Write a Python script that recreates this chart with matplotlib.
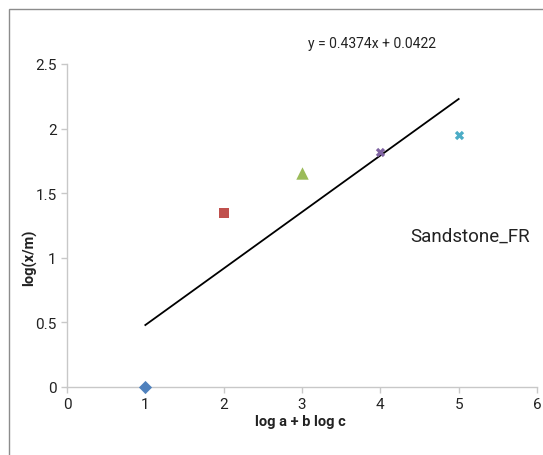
import matplotlib.pyplot as plt
import numpy as np
from matplotlib.patches import Rectangle

plt.rcParams['font.family'] = ['Roboto', 'DejaVu Sans']

# Sandstone_FR points, one series per marker
x_vals = [1, 2, 3, 4, 5]
y_vals = [0.0, 1.347, 1.656, 1.820, 1.950]
markers = ['D', 's', '^', 'X', 'X']
colors = ['#4F81BD', '#C0504D', '#9BBB59', '#8064A2', '#4BACC6']
sizes = [45, 60, 80, 45, 45]

# linear trendline from the stated equation
slope = 0.4374
intercept = 0.0422

x_ticks = [0, 1, 2, 3, 4, 5, 6]
y_ticks = [0, 0.5, 1, 1.5, 2, 2.5]
y_tick_labels = ['0', '0.5', '1', '1.5', '2', '2.5']

W, H = 543, 456
fig = plt.figure(figsize=(W / 100, H / 100), dpi=100)
ax = fig.add_axes([67 / W, 1 - 388 / H, 470 / W, 323 / H])

for x, y, m, c, s in zip(x_vals, y_vals, markers, colors, sizes):
    ax.scatter(x, y, marker=m, color=c, s=s, zorder=3, clip_on=False,
               linewidths=0)

xt = np.array([min(x_vals), max(x_vals)])
ax.plot(xt, slope * xt + intercept, color='black', lw=1.3)

ax.set_xlim(0, 6)
ax.set_ylim(0, 2.5)
ax.set_xticks(x_ticks)
ax.set_yticks(y_ticks)
ax.set_yticklabels(y_tick_labels)
for sp in ['top', 'right']:
    ax.spines[sp].set_visible(False)
for sp in ['left', 'bottom']:
    ax.spines[sp].set_color('#C8C8C8')
    ax.spines[sp].set_linewidth(1.0)
ax.tick_params(axis='both', colors='#C8C8C8', labelcolor='#222222',
               labelsize=11, length=4, width=1.0)

ax.set_xlabel('log a + b log c', fontsize=10.5, fontweight='bold',
              color='#222222')
ax.set_ylabel('log(x/m)', fontsize=10.5, fontweight='bold',
              color='#222222')
ax.xaxis.set_label_coords((300 - 67) / 470, -(415 - 388) / 323)
ax.yaxis.set_label_coords(-(67 - 37) / 470, (388 - 258) / 323)

fig.text(372 / W, 1 - 44 / H, f'y = {slope:.4f}x + {intercept:.4f}',
         ha='center', va='center', fontsize=10, color='#222222')
fig.text(470 / W, 1 - 237 / H, 'Sandstone_FR', ha='center', va='center',
         fontsize=13.5, color='#222222')

# chart area border
fig.patches.append(Rectangle((9 / W, -0.01), 1.0, 1 - 10 / H + 0.01,
                             transform=fig.transFigure, fill=False,
                             edgecolor='#8C8C8C', lw=1.0))

fig.savefig('out.png', dpi=100)
